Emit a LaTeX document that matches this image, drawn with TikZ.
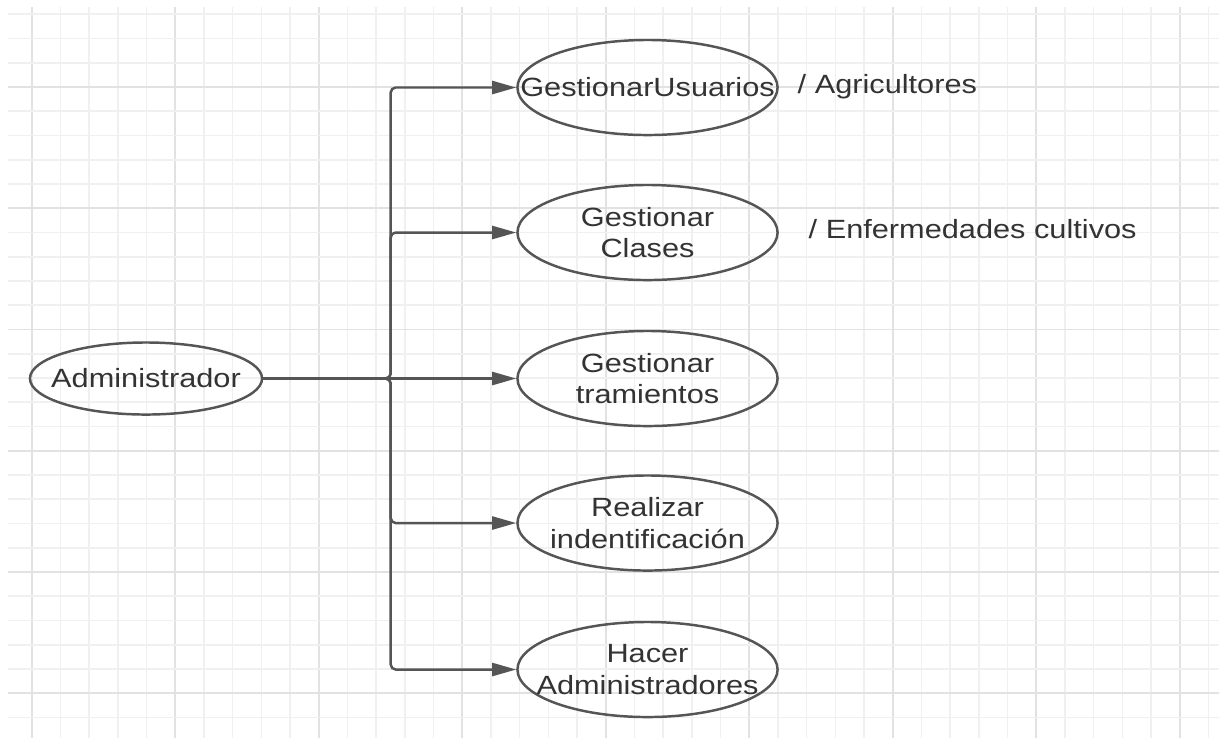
\documentclass[tikz,border=0pt]{standalone}
\usepackage{fontspec}
\setmainfont[FakeStretch=1.165]{Liberation Sans}
\usetikzlibrary{shapes.geometric,arrows.meta}

\definecolor{gridminor}{HTML}{F0F0F0}
\definecolor{gridmajor}{HTML}{E2E2E2}
\definecolor{linegray}{HTML}{555555}
\definecolor{textgray}{HTML}{333333}

\tikzset{
  uc/.style={draw=linegray, line width=0.7pt, ellipse, inner sep=0pt,
    minimum width=2.6cm, minimum height=0.95cm},
  lbl/.style={text=textgray, align=center, inner sep=0pt,
    font=\fontsize{7.5}{9}\selectfont},
  note/.style={text=textgray, inner sep=0pt, font=\fontsize{7.5}{9}\selectfont},
  conn/.style={draw=linegray, line width=0.7pt, rounded corners=0.05cm,
    -{Triangle[length=0.24cm,width=0.13cm]}}
}

\begin{document}
\begin{tikzpicture}[x=0.01cm,y=-0.01cm]
  \useasboundingbox[fill=white] (0,0) rectangle (1219,738);
  % grid
  \foreach \i in {0,...,41} {
    \pgfmathsetmacro{\gx}{31.7+28.7*\i}
    \pgfmathtruncatemacro{\m}{mod(\i,5)}
    \ifnum\m=0
      \draw[gridmajor, line width=0.55pt] (\gx,7) -- (\gx,738);
    \else
      \draw[gridminor, line width=0.45pt] (\gx,7) -- (\gx,738);
    \fi
  }
  \foreach \j in {0,...,29} {
    \pgfmathsetmacro{\gy}{14.25+24.25*\j}
    \pgfmathtruncatemacro{\m}{mod(\j,5)}
    \ifnum\m=3
      \draw[gridmajor, line width=0.55pt] (8,\gy) -- (1219,\gy);
    \else
      \draw[gridminor, line width=0.45pt] (8,\gy) -- (1219,\gy);
    \fi
  }

  % actor and use cases
  \node[uc, minimum width=2.32cm, minimum height=0.72cm,
    label={[lbl]center:Administrador}] (admin) at (146,378.5) {};
  \node[uc, label={[lbl]center:GestionarUsuarios}] (uc1) at (647.5,87.5) {};
  \node[uc, label={[lbl]center:{Gestionar\\Clases}}] (uc2) at (647.5,232.5) {};
  \node[uc, label={[lbl]center:{Gestionar\\tramientos}}] (uc3) at (647.5,378.5) {};
  \node[uc, label={[lbl]center:{Realizar\\indentificación}}] (uc4) at (647.5,523) {};
  \node[uc, label={[lbl]center:{Hacer\\Administradores}}] (uc5) at (647.5,669.5) {};

  \node[note, anchor=base west] (n1) at (797,93) {/ Agricultores};
  \node[note, anchor=base west] (n2) at (808,238.5) {/ Enfermedades cultivos};

  % connectors
  \coordinate (fork) at (390.7,378.5);
  \foreach \u in {uc1,uc2,uc4,uc5}
    \draw[conn] (admin.east) -- (fork) |- (\u.west);
  \draw[conn] (admin.east) -- (uc3.west);
\end{tikzpicture}
\end{document}
